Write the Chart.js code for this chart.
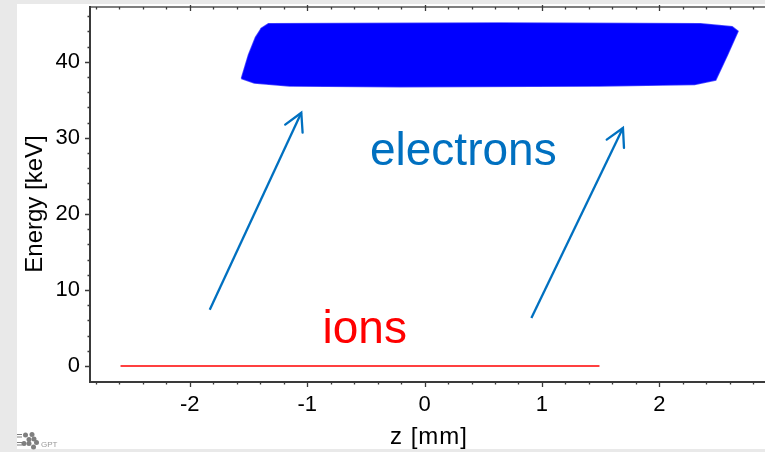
<!DOCTYPE html>
<html>
<head>
<meta charset="utf-8">
<script src="https://cdn.jsdelivr.net/npm/chart.js@4.4.1/dist/chart.umd.min.js"></script>
<style>
  html, body { margin: 0; padding: 0; background: #e9e9e9; overflow: hidden; }
  canvas { display: block; }
</style>
</head>
<body>
<canvas id="phaseChart" width="765" height="452"></canvas>
<script>
// axis ranges and labelled ticks
var zRange = [-2.85, 2.9];
var eRange = [-2.1, 47.2];
var zTicks = [-2, -1, 0, 1, 2];
var eTicks = [0, 10, 20, 30, 40];

// electron bunch outline in (z, E), traced clockwise and closed
var bunchZ = [-1.56, -1.50, -1.44, -1.39, -1.33, 0.64, 2.35, 2.62, 2.67, 2.58, 2.48, 2.30, 1.49, -0.21, -1.15, -1.45, -1.56];
var bunchE = [37.8, 40.9, 43.2, 44.4, 45.0, 45.1, 45.0, 44.6, 44.0, 40.9, 37.6, 37.0, 36.8, 36.7, 36.8, 37.2, 37.8];

// ion line at zero energy
var ionZ = [-2.59, 1.49];
var ionE = [0, 0];

// arrows from ions up to electrons
var leftArrowZ = [-1.83, -1.05];
var leftArrowE = [7.4, 33.3];
var rightArrowZ = [0.91, 1.69];
var rightArrowE = [6.3, 31.3];

// text annotations
var noteText = ['electrons', 'ions'];
var noteZ = [0.33, -0.51];
var noteE = [26.45, 3.03];
var noteColor = ['#0070C0', '#FF0000'];

var FONT = "'Liberation Sans', Arial, sans-serif";

function pts(xs, ys) {
    return xs.map(function (x, i) { return { x: x, y: ys[i] }; });
}

var frame = {
    id: 'frame',
    beforeDraw: function (chart) {
        var ctx = chart.ctx;
        ctx.save();
        ctx.fillStyle = '#e9e9e9';
        ctx.fillRect(0, 0, chart.width, chart.height);
        ctx.fillStyle = '#ffffff';
        ctx.fillRect(17, 4, chart.width - 17, 445);
        ctx.restore();
    },
    afterDatasetsDraw: function (chart) {
        var ctx = chart.ctx;
        var xs = chart.scales.x, ys = chart.scales.y;
        ctx.save();
        // open arrow heads at the end of each arrow line
        chart.data.datasets.forEach(function (ds, i) {
            if (!ds.arrow) return;
            var pts = chart.getDatasetMeta(i).data;
            var a = pts[pts.length - 2], b = pts[pts.length - 1];
            var ang = Math.atan2(a.y - b.y, a.x - b.x);
            ctx.strokeStyle = ds.borderColor;
            ctx.lineWidth = ds.borderWidth;
            ctx.lineCap = 'round';
            ctx.beginPath();
            ctx.moveTo(b.x + 20 * Math.cos(ang + 0.5), b.y + 20 * Math.sin(ang + 0.5));
            ctx.lineTo(b.x, b.y);
            ctx.lineTo(b.x + 20 * Math.cos(ang - 0.5), b.y + 20 * Math.sin(ang - 0.5));
            ctx.stroke();
        });
        // labels for the two species
        ctx.textAlign = 'center';
        ctx.textBaseline = 'alphabetic';
        ctx.font = '46px ' + FONT;
        noteText.forEach(function (t, i) {
            ctx.fillStyle = noteColor[i];
            ctx.fillText(t, xs.getPixelForValue(noteZ[i]), ys.getPixelForValue(noteE[i]));
        });
        ctx.restore();
    },
    afterDraw: function (chart) {
        var ctx = chart.ctx;
        var a = chart.chartArea;
        var xs = chart.scales.x, ys = chart.scales.y;
        ctx.save();
        // frame lines
        ctx.strokeStyle = '#555';
        ctx.lineWidth = 1.5;
        ctx.beginPath();
        ctx.moveTo(a.left, a.top);
        ctx.lineTo(a.right, a.top);
        ctx.stroke();
        ctx.strokeStyle = '#3a3a3a';
        ctx.lineWidth = 2;
        ctx.beginPath();
        ctx.moveTo(a.left, a.top - 1);
        ctx.lineTo(a.left, a.bottom + 1);
        ctx.moveTo(a.left - 1, a.bottom);
        ctx.lineTo(a.right, a.bottom);
        ctx.stroke();

        // major and minor tick marks
        ctx.lineWidth = 1.3;
        ctx.beginPath();
        for (var k = -14; k <= 14; k++) {
            var v = k / 5;
            var px = Math.round(xs.getPixelForValue(v)) + 0.5;
            if (px < a.left + 2 || px > a.right) continue;
            var major = k % 5 === 0;
            ctx.moveTo(px, a.bottom);
            ctx.lineTo(px, a.bottom + (major ? 5 : 2.5));
            ctx.moveTo(px, a.top - (major ? 2 : 0));
            ctx.lineTo(px, a.top + (major ? 4 : 2.5));
        }
        for (var e = -2; e <= 46; e += 2) {
            var py = Math.round(ys.getPixelForValue(e)) + 0.5;
            if (py > a.bottom - 2 || py < a.top + 2) continue;
            var maj = e % 10 === 0;
            ctx.moveTo(a.left, py);
            ctx.lineTo(a.left - (maj ? 5 : 2.5), py);
        }
        ctx.stroke();

        // axis titles
        ctx.fillStyle = '#000';
        ctx.font = '24px ' + FONT;
        ctx.textAlign = 'center';
        ctx.textBaseline = 'alphabetic';
        ctx.letterSpacing = '1px';
        ctx.fillText('z [mm]', 429, 444);
        ctx.letterSpacing = '0px';
        ctx.translate(42, 204);
        ctx.rotate(-Math.PI / 2);
        ctx.fillText('Energy [keV]', 0, 0);
        ctx.setTransform(1, 0, 0, 1, 0, 0);

        // GPT mark in the corner
        ctx.fillStyle = '#7f7f7f';
        ctx.strokeStyle = '#7f7f7f';
        ctx.lineWidth = 1.2;
        ctx.beginPath();
        ctx.moveTo(17, 434.5); ctx.lineTo(22, 434.5);
        ctx.moveTo(17, 437); ctx.lineTo(22, 437);
        ctx.moveTo(17, 442.5); ctx.lineTo(22, 442.5);
        ctx.moveTo(17, 445); ctx.lineTo(22, 445);
        ctx.stroke();
        [[25.5, 435], [32, 434.5], [29, 439.5], [34, 439], [36.5, 442.5], [24, 443.5], [29, 443.5], [33.5, 447]].forEach(function (d) {
            ctx.beginPath();
            ctx.arc(d[0], d[1], 2.5, 0, Math.PI * 2);
            ctx.fill();
        });
        ctx.font = '8px ' + FONT;
        ctx.textAlign = 'left';
        ctx.fillStyle = '#999';
        ctx.fillText('GPT', 41, 447);
        ctx.restore();
    }
};

var chart = new Chart(document.getElementById('phaseChart'), {
    type: 'scatter',
    data: {
        datasets: [{
            label: 'electrons',
            data: pts(bunchZ, bunchE),
            showLine: true,
            fill: 'shape',
            backgroundColor: '#0000FF',
            borderColor: 'rgba(0, 0, 255, 0.7)',
            borderWidth: 1.5,
            pointRadius: 0,
            tension: 0
        }, {
            label: 'ions',
            data: pts(ionZ, ionE),
            showLine: true,
            borderColor: '#FF0000',
            borderWidth: 1.5,
            pointRadius: 0
        }, {
            label: 'arrow left',
            arrow: true,
            data: pts(leftArrowZ, leftArrowE),
            showLine: true,
            borderColor: '#0070C0',
            borderWidth: 2.3,
            pointRadius: 0
        }, {
            label: 'arrow right',
            arrow: true,
            data: pts(rightArrowZ, rightArrowE),
            showLine: true,
            borderColor: '#0070C0',
            borderWidth: 2.3,
            pointRadius: 0
        }]
    },
    options: {
        responsive: false,
        animation: false,
        devicePixelRatio: 1,
        layout: { padding: { top: 7, left: 0, right: 0, bottom: 0 } },
        plugins: {
            legend: { display: false },
            tooltip: { enabled: false }
        },
        scales: {
            x: {
                type: 'linear',
                position: 'bottom',
                min: zRange[0],
                max: zRange[1],
                grid: { display: false, drawTicks: false },
                border: { display: false },
                afterBuildTicks: function (s) { s.ticks = zTicks.map(function (v) { return { value: v }; }); },
                afterFit: function (s) { s.height = 70; s.paddingLeft = 0; s.paddingRight = 0; },
                ticks: {
                    padding: 10,
                    color: '#000',
                    includeBounds: false,
                    autoSkip: false,
                    maxRotation: 0,
                    font: { family: FONT, size: 22 },
                    callback: function (v) { return String(v); }
                }
            },
            y: {
                type: 'linear',
                position: 'left',
                min: eRange[0],
                max: eRange[1],
                grid: { display: false, drawTicks: false },
                border: { display: false },
                afterBuildTicks: function (s) { s.ticks = eTicks.map(function (v) { return { value: v }; }); },
                afterFit: function (s) { s.width = 90; s.paddingTop = 0; s.paddingBottom = 0; },
                ticks: {
                    padding: 10,
                    color: '#000',
                    includeBounds: false,
                    autoSkip: false,
                    font: { family: FONT, size: 22 },
                    callback: function (v) { return String(v); }
                }
            }
        }
    },
    plugins: [frame]
});
</script>
</body>
</html>
